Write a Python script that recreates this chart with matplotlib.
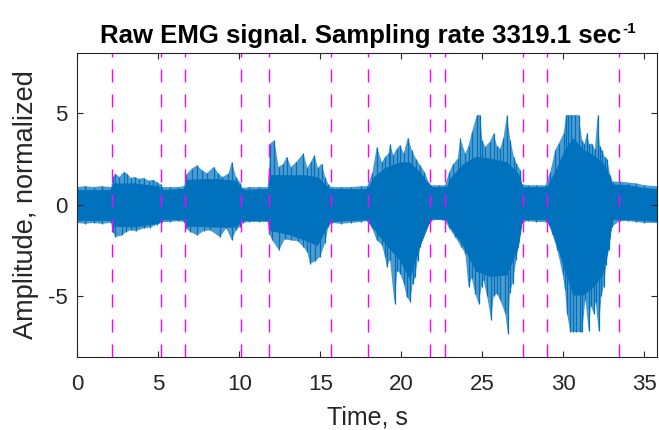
import numpy as np
import matplotlib.pyplot as plt

plt.rcParams['font.family'] = ['Liberation Sans', 'DejaVu Sans']
plt.rcParams['axes.unicode_minus'] = False

# raw EMG trace
# solid (dense) part: time s, upper, lower
core_t = [0.0, 2.1, 2.2, 3.5, 5.0, 5.2, 6.65, 6.7, 8.5, 9.8, 10.1, 10.2, 11.8, 11.9,
          13.0, 14.0, 14.8, 15.4, 15.6, 17.9, 18.3, 19.0, 19.9, 20.5, 21.1, 21.6,
          21.8, 22.8, 23.0, 23.8, 24.6, 25.5, 26.5, 27.2, 27.45, 29.0, 29.2, 29.6,
          30.1, 30.6, 31.2, 31.8, 32.4, 32.8, 33.0, 34.0, 35.0, 35.8]
core_hi = [0.8, 0.8, 1.15, 1.15, 1.0, 0.8, 0.85, 1.35, 1.4, 1.3, 0.9, 0.8, 0.85, 1.6,
           1.6, 1.6, 1.5, 1.0, 0.85, 0.85, 1.5, 2.0, 2.3, 2.3, 1.8, 1.2,
           0.95, 0.95, 1.4, 2.2, 2.6, 2.5, 2.3, 1.7, 0.95, 0.95, 1.3, 2.0,
           3.0, 3.6, 3.0, 2.7, 2.3, 1.6, 1.1, 1.05, 0.9, 0.85]
core_lo = [-0.85, -0.85, -1.15, -1.2, -1.0, -0.8, -0.8, -1.15, -1.2, -1.2, -0.9, -0.85, -0.85, -1.4,
           -1.6, -1.9, -2.2, -1.2, -0.9, -0.8, -1.3, -2.1, -3.0, -4.0, -2.3, -1.2,
           -0.75, -0.8, -1.2, -2.2, -3.6, -3.9, -3.8, -2.3, -0.8, -0.8, -1.2, -2.2,
           -3.6, -4.9, -4.9, -4.5, -3.8, -2.2, -0.8, -0.8, -0.85, -0.9]

# positive peaks: time s, value
up_t = [0.0, 0.5, 1.0, 1.5, 2.1, 2.2, 2.35, 2.6, 2.87, 3.07, 3.3, 3.58, 3.8, 4.1, 4.4, 4.7,
        4.9, 5.15, 5.25, 5.7, 6.2, 6.6, 6.7, 7.08, 7.39, 7.7, 8.0, 8.42, 8.7, 8.96, 9.33,
        9.54, 9.8, 10.05, 10.2, 10.6, 11.2, 11.75, 11.85, 11.9, 12.17, 12.42, 12.7, 12.93,
        13.2, 13.5, 13.96, 14.2, 14.4, 14.64, 14.85, 15.09, 15.3, 15.5, 15.7, 16.3, 16.9,
        17.5, 17.9, 18.2, 18.49, 18.8, 19.0, 19.21, 19.31, 19.5, 19.73, 19.93, 20.15, 20.41,
        20.65, 20.9, 21.17, 21.43, 21.7, 21.85, 22.3, 22.7, 22.97, 23.2, 23.48, 23.64, 23.95,
        24.15, 24.36, 24.67, 24.87, 25.0, 25.18, 25.45, 25.7, 25.9, 26.1, 26.3, 26.52, 26.73,
        26.95, 27.1, 27.35, 27.45, 27.8, 28.3, 28.9, 29.2, 29.5, 29.71, 30.02, 30.17, 30.3,
        30.5, 30.7, 30.95, 31.16, 31.3, 31.46, 31.6, 31.77, 31.95, 32.12, 32.25, 32.39, 32.55,
        32.7, 32.9, 33.05, 33.5, 34.0, 34.5, 35.0, 35.8]
up_v = [0.95, 1.0, 0.95, 1.0, 0.95, 1.5, 1.69, 1.5, 1.78, 1.69, 1.45, 1.5, 1.4, 1.45, 1.3, 1.35,
        1.23, 1.1, 0.95, 0.95, 0.95, 1.0, 1.6, 1.96, 2.14, 1.87, 1.7, 2.05, 1.7, 1.5, 1.69,
        2.32, 1.5, 1.2, 0.9, 0.95, 0.95, 0.95, 2.0, 3.32, 3.5, 2.05, 2.2, 2.6,
        2.05, 2.3, 2.78, 2.0, 2.3, 2.69, 2.0, 2.23, 1.5, 1.1, 0.95, 0.95, 0.95,
        1.0, 1.0, 1.7, 3.14, 2.3, 2.6, 2.78, 3.32, 2.7, 3.05, 3.23, 2.8, 3.65,
        2.96, 2.5, 2.14, 1.78, 1.2, 1.05, 1.05, 1.05, 1.78, 2.2, 2.5, 3.6, 2.78,
        3.2, 3.96, 4.87, 4.87, 3.5, 3.14, 3.4, 3.87, 3.2, 3.05, 3.6, 4.87, 3.5,
        2.6, 2.25, 1.89, 1.1, 1.05, 1.05, 1.05, 1.78, 2.96, 3.32, 3.87, 4.87, 4.87,
        4.87, 4.87, 4.87, 3.5, 3.3, 3.87, 3.3, 3.32, 3.0, 4.87, 3.2, 2.96, 2.6,
        2.5, 1.6, 1.25, 1.25, 1.2, 1.15, 1.05, 1.0]

# negative peaks: time s, value
lo_t = [0.0, 0.5, 1.0, 1.5, 2.1, 2.2, 2.35, 2.77, 3.0, 3.3, 3.6, 4.1, 4.5, 4.9, 5.15, 5.25,
        5.7, 6.2, 6.6, 6.7, 6.98, 7.39, 7.8, 8.2, 8.8, 9.2, 9.54, 9.8, 10.05, 10.2, 10.6,
        11.2, 11.75, 11.85, 12.04, 12.45, 12.8, 13.2, 13.6, 13.96, 14.2, 14.37, 14.67, 14.98,
        15.3, 15.5, 15.7, 16.3, 16.9, 17.5, 17.9, 18.2, 18.49, 18.8, 19.0, 19.1, 19.3, 19.58,
        19.75, 19.93, 20.15, 20.34, 20.55, 20.7, 20.86, 21.0, 21.17, 21.48, 21.7, 21.85, 22.3,
        22.7, 22.97, 23.33, 23.7, 23.95, 24.15, 24.35, 24.56, 24.77, 24.95, 25.08, 25.3, 25.55,
        25.7, 25.9, 26.1, 26.42, 26.58, 26.7, 26.87, 27.1, 27.35, 27.45, 27.8, 28.3, 28.9,
        29.1, 29.33, 29.64, 29.95, 30.1, 30.23, 30.43, 30.6, 30.8, 31.0, 31.16, 31.36, 31.57,
        31.7, 31.87, 32.0, 32.18, 32.35, 32.49, 32.65, 32.8, 33.0, 33.5, 34.0, 34.5, 35.0, 35.8]
lo_v = [-1.0, -1.05, -1.0, -1.05, -1.0, -1.5, -1.77, -1.68, -1.5, -1.4, -1.45, -1.3, -1.25, -1.1, -1.0, -0.95,
        -0.95, -0.9, -0.95, -1.3, -1.49, -1.68, -1.45, -1.4, -1.77, -1.3, -1.95, -1.4, -1.2, -1.0, -0.95,
        -0.95, -0.95, -1.6, -1.95, -2.49, -1.9, -1.95, -2.0, -2.3, -2.6, -3.22, -3.1, -2.85,
        -2.1, -1.2, -1.0, -1.05, -1.0, -0.95, -0.9, -1.3, -1.95, -2.2, -2.85, -3.4, -3.0, -5.4,
        -3.6, -3.76, -4.3, -5.03, -5.3, -4.3, -3.95, -3.1, -2.3, -1.4, -1.0, -0.9, -0.8,
        -0.9, -1.3, -1.77, -2.3, -2.67, -4.49, -4.0, -4.85, -5.4, -4.5, -4.13, -5.0, -6.3,
        -5.0, -4.85, -5.2, -5.93, -7.03, -4.8, -4.3, -3.0, -1.6, -1.0, -0.9, -0.95, -0.95,
        -1.1, -1.6, -2.5, -3.76, -4.6, -5.94, -6.94, -6.94, -6.94, -6.94, -6.94, -5.2, -6.9,
        -5.5, -5.94, -5.3, -6.9, -5.0, -4.49, -3.3, -2.5, -1.2, -0.9, -0.9, -0.95, -1.0, -1.0]

# segment boundaries (s)
marks = [2.16, 5.17, 6.67, 10.11, 11.84, 15.67, 17.94, 21.80, 22.67, 27.49, 28.99, 33.42]

fs = 3319.1
blue = '#0072BD'
dark = '#262626'

fig = plt.figure(figsize=(6.59, 4.30), dpi=100)
ax = fig.add_axes([0.1173, 0.1698, 0.8801, 0.7069])

# outer fringe, solid core, thin peaks on top
ax.fill(list(up_t) + list(lo_t)[::-1], list(up_v) + list(lo_v)[::-1],
        color=blue, alpha=0.7, lw=0)
ax.fill_between(core_t, core_hi, core_lo, color=blue, lw=0.6, edgecolor=blue)
ax.vlines(up_t, 0, up_v, color=blue, lw=0.9)
ax.vlines(lo_t, 0, lo_v, color=blue, lw=0.9)

for m in marks:
    ax.axvline(m, color='#FF00FF', lw=1.0, dashes=(9.4, 8.6))

ax.set_xlim(0, 35.8)
ax.set_ylim(-8.3, 8.25)
ax.set_xticks([0, 5, 10, 15, 20, 25, 30, 35])
ax.set_yticks([-5, 0, 5])
ax.tick_params(direction='in', top=True, right=True, length=4, width=0.8,
               colors=dark, labelsize=16)
ax.tick_params(axis='x', pad=12)
ax.tick_params(axis='y', pad=7)
for s in ax.spines.values():
    s.set_color(dark)
    s.set_linewidth(0.8)

ax.set_xlabel('Time, s', fontsize=18, color=dark, labelpad=8)
ax.set_ylabel('Amplitude, normalized', fontsize=19.5, color=dark, labelpad=6)
title = ax.set_title('Raw EMG signal. Sampling rate %.1f sec' % fs,
                     fontsize=18.5, fontweight='bold', pad=7, x=0.488)

# superscript -1 placed right after the title text
fig.canvas.draw()
bb = title.get_window_extent()
W, H = fig.get_size_inches() * fig.dpi
base = bb.y0 + 0.21 * 18.5 * fig.dpi / 72
fig.text((bb.x1 + 1) / W, (base + 9.5) / H, '-1', ha='left', va='baseline',
         fontsize=11, fontweight='bold')

plt.savefig('out.png', dpi=100)
